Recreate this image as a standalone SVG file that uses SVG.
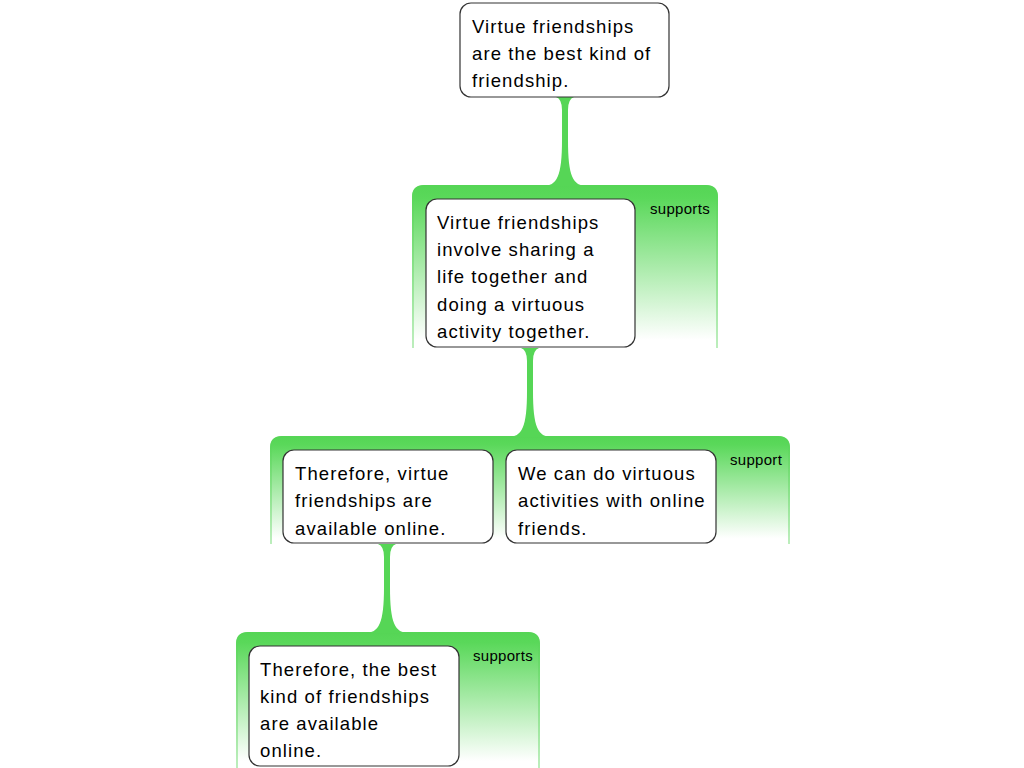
<svg xmlns="http://www.w3.org/2000/svg" width="1024" height="768" viewBox="0 0 1024 768">
<style>
.node{fill:#ffffff;stroke:#333333;stroke-width:1.2}
.t{font-family:"Liberation Sans",Arial,sans-serif;font-size:18.5px;letter-spacing:1.1px;fill:#000}
.lbl{font-family:"Liberation Sans",Arial,sans-serif;font-size:15px;letter-spacing:0.3px;fill:#000}
.stem{fill:#56d656}
.band{fill:url(#bandGrad)}
.edge{fill:none;stroke:url(#edgeGrad);stroke-width:1.5}
</style>
<defs>
<linearGradient id="bandGrad" x1="0" y1="0" x2="0" y2="1">
<stop offset="0" stop-color="#55d555"/>
<stop offset="0.08" stop-color="#5ad85a"/>
<stop offset="0.95" stop-color="#ffffff"/>
</linearGradient>
<linearGradient id="edgeGrad" x1="0" y1="0" x2="0" y2="1">
<stop offset="0" stop-color="#55d555"/>
<stop offset="1" stop-color="#a6e8a6"/>
</linearGradient>
</defs>
<g id="connectors">
<g id="band1">
<path class="band" d="M412 348 L412 197 Q412 185 424 185 L706 185 Q718 185 718 197 L718 348 Z"/>
<path class="edge" d="M413 348 L413 197 Q413 186 424 186 L706 186 Q717 186 717 197 L717 348"/>
<path class="stem" d="M543 186 C557 186 562 176 562 140 L562 110 Q562 99 556 97 L574 97 Q568 99 568 110 L568 140 C568 176 573 186 587 186 Z"/>
<text class="lbl" x="650" y="214">supports</text>
</g>
<g id="band2">
<path class="band" d="M270 544 L270 448 Q270 436 282 436 L778 436 Q790 436 790 448 L790 544 Z"/>
<path class="edge" d="M271 544 L271 448 Q271 437 282 437 L778 437 Q789 437 789 448 L789 544"/>
<path class="stem" d="M508 437 C522 437 527 427 527 391 L527 361 Q527 350 521 348 L539 348 Q533 350 533 361 L533 391 C533 427 538 437 552 437 Z"/>
<text class="lbl" x="730" y="465">support</text>
</g>
<g id="band3">
<path class="band" d="M236 768 L236 644 Q236 632 248 632 L528 632 Q540 632 540 644 L540 768 Z"/>
<path class="edge" d="M237 768 L237 644 Q237 633 248 633 L528 633 Q539 633 539 644 L539 768"/>
<path class="stem" d="M365 633 C379 633 384 623 384 587 L384 557 Q384 546 378 544 L396 544 Q390 546 390 557 L390 587 C390 623 395 633 409 633 Z"/>
<text class="lbl" x="473" y="661">supports</text>
</g>
</g>
<g id="node1">
<rect class="node" x="460" y="3" width="209" height="94" rx="11"/>
<text class="t"><tspan x="472" y="33">Virtue friendships</tspan><tspan x="472" y="60">are the best kind of</tspan><tspan x="472" y="87">friendship.</tspan></text>
</g>
<g id="node2">
<rect class="node" x="426" y="199" width="209" height="148" rx="11"/>
<text class="t"><tspan x="437" y="229">Virtue friendships</tspan><tspan x="437" y="256">involve sharing a</tspan><tspan x="437" y="283">life together and</tspan><tspan x="437" y="311">doing a virtuous</tspan><tspan x="437" y="338">activity together.</tspan></text>
</g>
<g id="node3">
<rect class="node" x="283" y="450" width="210" height="93" rx="11"/>
<text class="t"><tspan x="295" y="480">Therefore, virtue</tspan><tspan x="295" y="507">friendships are</tspan><tspan x="295" y="535">available online.</tspan></text>
</g>
<g id="node4">
<rect class="node" x="506" y="450" width="210" height="93" rx="11"/>
<text class="t"><tspan x="518" y="480">We can do virtuous</tspan><tspan x="518" y="507">activities with online</tspan><tspan x="518" y="535">friends.</tspan></text>
</g>
<g id="node5">
<rect class="node" x="249" y="646" width="210" height="120" rx="11"/>
<text class="t"><tspan x="260" y="676">Therefore, the best</tspan><tspan x="260" y="703">kind of friendships</tspan><tspan x="260" y="730">are available</tspan><tspan x="260" y="757">online.</tspan></text>
</g>
</svg>
